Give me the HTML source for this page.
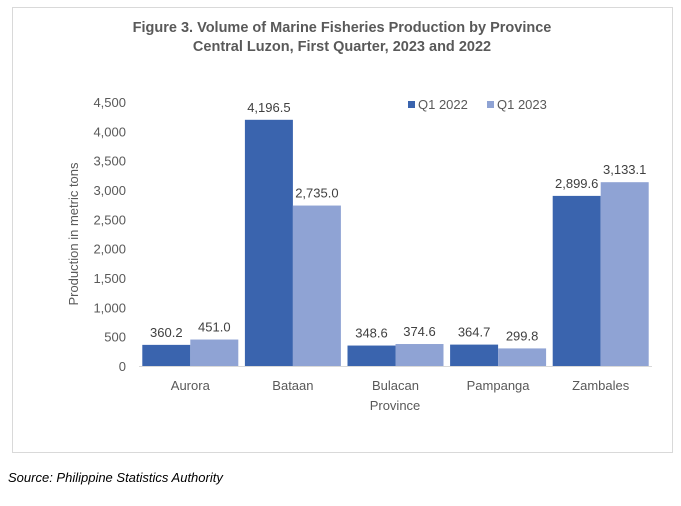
<!DOCTYPE html>
<html><head><meta charset="utf-8"><style>
body{margin:0;background:#fff;width:681px;height:501px;overflow:hidden;font-family:"Liberation Sans",Arial,sans-serif}
</style></head><body>
<svg width="681" height="501" xmlns="http://www.w3.org/2000/svg">
<rect x="12.5" y="7.5" width="660" height="445" fill="#fff" stroke="#d9d9d9"/>
<text x="342" y="32" text-anchor="middle" font-size="14.5" font-weight="bold" fill="#595959">Figure 3. Volume of Marine Fisheries Production by Province</text>
<text x="342" y="51" text-anchor="middle" font-size="14.5" font-weight="bold" fill="#595959">Central Luzon, First Quarter, 2023 and 2022</text>
<g id="yaxis"></g>
<g id="bars"></g>
<line x1="139" y1="366.5" x2="652" y2="366.5" stroke="#d9d9d9"/>
<text x="78" y="234" transform="rotate(-90 78 234)" text-anchor="middle" font-size="13" fill="#595959">Production in metric tons</text>
<text x="395" y="410" text-anchor="middle" font-size="13" fill="#595959">Province</text>
<g>
<rect x="408" y="101" width="7" height="7" fill="#3a64ae"/>
<text x="418" y="109" font-size="13" fill="#595959">Q1 2022</text>
<rect x="487" y="101" width="7" height="7" fill="#8fa3d4"/>
<text x="497" y="109" font-size="13" fill="#595959">Q1 2023</text>
</g>
<text x="8" y="482" font-size="13" font-style="italic" fill="#000">Source: Philippine Statistics Authority</text>
</svg>
<script>
const categories=["Aurora","Bataan","Bulacan","Pampanga","Zambales"];
const q12022=[360.2,4196.5,348.6,364.7,2899.6];
const q12023=[451.0,2735.0,374.6,299.8,3133.1];
const yTicks=[0,500,1000,1500,2000,2500,3000,3500,4000,4500];
const NS="http://www.w3.org/2000/svg";
const x0=139,x1=652,y0=366,yTop=102,yMax=4500;
const y=v=>y0-(v/yMax)*(y0-yTop);
const bw=(x1-x0)/categories.length;
const fmt=v=>v.toLocaleString("en-US",{minimumFractionDigits:1,maximumFractionDigits:1});
function mk(tag,attrs,parent){const e=document.createElementNS(NS,tag);for(const k in attrs)e.setAttribute(k,attrs[k]);parent.appendChild(e);return e;}
const ya=document.getElementById("yaxis");
yTicks.forEach(t=>{const e=mk("text",{x:126,y:y(t)+5,"text-anchor":"end","font-size":13,fill:"#595959"},ya);


e.textContent=t.toLocaleString("en-US");});
const g=document.getElementById("bars");
categories.forEach((c,i)=>{
 const cx=x0+bw*(i+0.5);
 [[q12022,"#3a64ae",-48],[q12023,"#8fa3d4",0]].forEach(([arr,col,off],s)=>{
  const v=arr[i];
  const r=mk("rect",{x:cx+off,y:y(v),width:48,height:y0-y(v),fill:col},g);
  
  
  const l=mk("text",{x:cx+off+24,y:y(v)-8,"text-anchor":"middle","font-size":13,fill:"#404040"},g);
  
  
  l.textContent=fmt(v);
 });
 const t=mk("text",{x:cx,y:390,"text-anchor":"middle","font-size":13,fill:"#595959"},g);
 
 
 t.textContent=c;
});
</script>
</body></html>
